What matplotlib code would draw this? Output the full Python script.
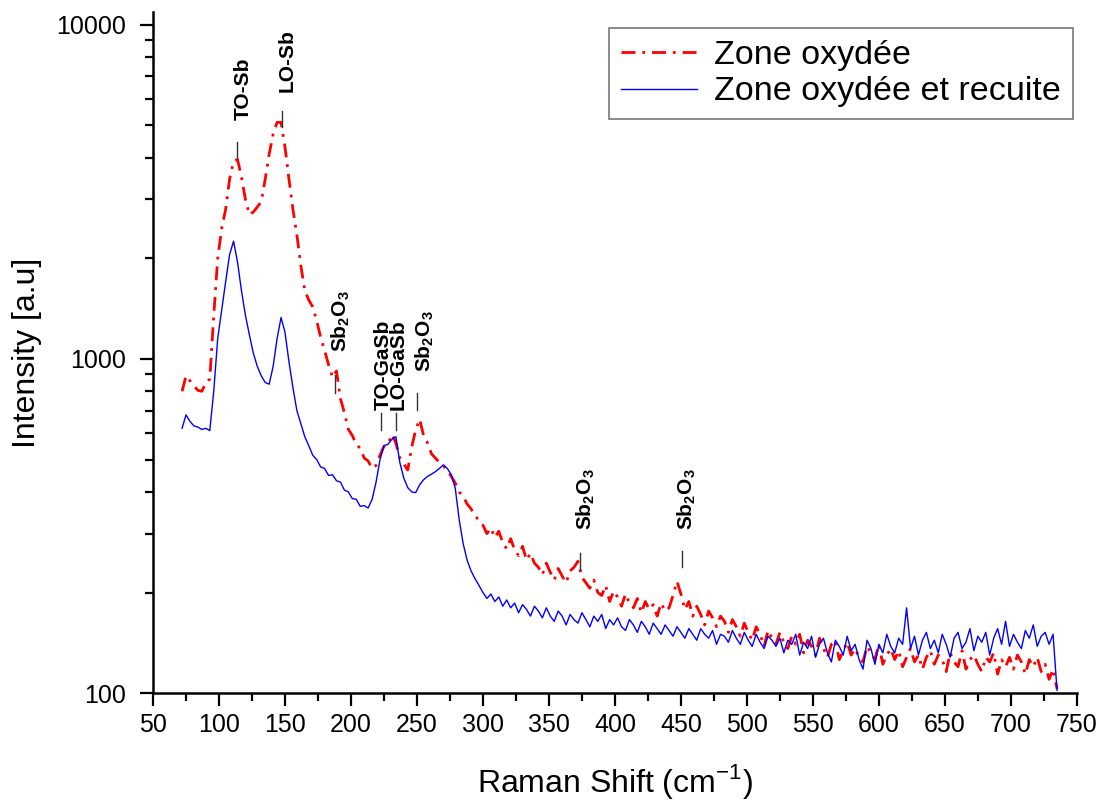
import numpy as np
import matplotlib
matplotlib.use("Agg")
import matplotlib.pyplot as plt
import matplotlib.ticker as mticker

# =========================
# Data, x grid every 3 cm-1 from 72 to 735
# =========================
shift = np.arange(72, 736, 3)

zone_oxydee = [
    800, 890, 860, 830, 805, 800, 850, 870, 1350, 2000,        # 72
    2450, 2800, 3450, 3900, 3950, 3500, 3000, 2700, 2750, 2850,  # 102
    2950, 3450, 4100, 4700, 5100, 5100, 4300, 3450, 2800, 2350,  # 132
    1900, 1600, 1500, 1430, 1300, 1160, 1060, 960, 880, 920,    # 162
    760, 690, 615, 590, 555, 540, 505, 495, 470, 480,           # 192
    515, 548, 555, 595, 560, 505, 485, 465, 545, 612,           # 222
    660, 590, 560, 520, 505, 490, 478, 465, 445, 425,           # 252
    400, 388, 368, 356, 338, 330, 318, 300, 312, 292,           # 282
    305, 282, 270, 290, 268, 258, 275, 250, 262, 245,           # 312
    238, 226, 245, 230, 218, 236, 224, 214, 232, 238,           # 342
    248, 222, 214, 206, 218, 200, 196, 210, 188, 202,           # 372
    194, 182, 198, 186, 180, 192, 174, 188, 178, 184,           # 402
    170, 186, 176, 180, 196, 216, 198, 178, 188, 170,           # 432
    182, 172, 160, 176, 168, 158, 170, 164, 152, 166,           # 462
    158, 148, 162, 152, 144, 158, 150, 138, 154, 146,           # 492
    140, 152, 142, 136, 148, 140, 150, 132, 144, 138,           # 522
    130, 146, 136, 128, 140, 144, 126, 134, 142, 130,           # 552
    136, 128, 124, 138, 132, 126, 140, 122, 130, 136,           # 582
    126, 134, 120, 128, 136, 124, 130, 118, 128, 134,           # 612
    122, 130, 126, 116, 132, 124, 120, 134, 118, 126,           # 642
    130, 122, 116, 128, 124, 132, 114, 126, 120, 128,           # 672
    118, 130, 124, 114, 126, 120, 128, 116, 122, 110,           # 702
    118, 103,                                                   # 732
]

zone_recuite = [
    620, 680, 650, 630, 625, 615, 620, 610, 800, 1150,          # 72
    1400, 1700, 2050, 2250, 1950, 1600, 1350, 1180, 1040, 950,  # 102
    890, 850, 840, 950, 1150, 1330, 1200, 980, 820, 700,        # 132
    640, 585, 550, 515, 500, 475, 470, 448, 450, 432,           # 162
    428, 405, 400, 382, 380, 362, 364, 358, 380, 428,           # 192
    500, 550, 555, 575, 585, 490, 440, 412, 400, 398,           # 222
    420, 435, 445, 452, 460, 470, 482, 470, 450, 410,           # 252
    330, 280, 250, 232, 220, 210, 200, 192, 198, 188,           # 282
    194, 182, 190, 180, 186, 174, 184, 178, 170, 182,           # 312
    176, 168, 180, 170, 164, 176, 170, 160, 172, 166,           # 342
    162, 174, 166, 158, 170, 164, 172, 156, 166, 160,           # 372
    168, 158, 154, 166, 160, 152, 164, 158, 150, 162,           # 402
    156, 150, 160, 154, 148, 158, 152, 146, 156, 150,           # 432
    144, 156, 150, 146, 154, 140, 150, 148, 142, 154,           # 462
    146, 140, 152, 144, 138, 150, 142, 136, 148, 144,           # 492
    138, 146, 132, 144, 140, 150, 130, 142, 136, 148,           # 522
    128, 140, 146, 132, 124, 144, 138, 130, 148, 134,           # 552
    140, 126, 118, 144, 136, 122, 140, 132, 150, 138,           # 582
    132, 146, 140, 180, 136, 148, 130, 144, 152, 136,           # 612
    144, 132, 150, 140, 128, 146, 152, 136, 142, 156,           # 642
    134, 148, 142, 152, 130, 146, 156, 140, 164, 138,           # 672
    150, 142, 136, 154, 146, 160, 138, 148, 152, 140,           # 702
    150, 102,                                                   # 732
]

# peak assignments: label, marker x, marker bottom/top, text x, text bottom
sb2o3 = r"Sb$_\mathbf{2}$O$_\mathbf{3}$"
peak_labels = ["TO-Sb", "LO-Sb", sb2o3, "TO-GaSb", "LO-GaSb", sb2o3, sb2o3, sb2o3]
peak_x = [113.6, 147.7, 187.9, 222.7, 234.0, 250.0, 373.5, 450.8]
mark_lo = [4000, 4950, 790, 613, 613, 703, 233, 238]
mark_hi = [4465, 5530, 896, 689, 689, 790, 262, 266]
label_x = [118.5, 151.5, 192.0, 224.5, 235.8, 256.0, 377.5, 454.5]
label_y = [5200, 6300, 1050, 703, 703, 916, 308, 308]

# =========================
# Plot settings
# =========================
plt.rcParams.update({
    "font.family": ["Liberation Sans", "DejaVu Sans"],
    "mathtext.fontset": "custom",
    "mathtext.rm": "Liberation Sans",
    "mathtext.bf": "Liberation Sans:bold",
    "xtick.labelsize": 18,
    "ytick.labelsize": 18,
})

fig = plt.figure(figsize=(11.05, 8.06), dpi=100)
ax = fig.add_axes([0.1385, 0.140, 0.836, 0.845])

ax.plot(shift, zone_oxydee, color="#FF0000", lw=2.0,
        linestyle=(0, (5, 2.5, 1, 2.5)), label="Zone oxydée")
ax.plot(shift, zone_recuite, color="#0000FF", lw=1.0, label="Zone oxydée et recuite")

for lab, px, lo, hi, tx, ty in zip(peak_labels, peak_x, mark_lo, mark_hi, label_x, label_y):
    ax.plot([px, px], [lo, hi], color="#333333", lw=1.0)
    ax.text(tx, ty, lab, rotation=90, ha="center", va="bottom",
            fontsize=15, fontweight="bold")

ax.set_yscale("log")
ax.set_xlim(50, 750)
ax.set_ylim(100, 10900)

ax.xaxis.set_major_locator(mticker.MultipleLocator(50))
ax.xaxis.set_minor_locator(mticker.MultipleLocator(25))
ax.yaxis.set_major_locator(mticker.LogLocator(base=10))
ax.yaxis.set_minor_locator(mticker.LogLocator(base=10, subs=np.arange(2, 10)))
ax.yaxis.set_major_formatter(mticker.FuncFormatter(lambda v, p: f"{v:.0f}"))
ax.yaxis.set_minor_formatter(mticker.NullFormatter())

ax.tick_params(which="major", direction="out", length=9.5, width=1.6, pad=5)
ax.tick_params(which="minor", direction="out", length=5.5, width=1.6)
ax.tick_params(axis="y", which="major", pad=10)

for s in ["top", "right"]:
    ax.spines[s].set_visible(False)
for s in ["left", "bottom"]:
    ax.spines[s].set_linewidth(1.8)

ax.set_xlabel(r"Raman Shift (cm$^{\mathregular{-1}}$)", fontsize=23, labelpad=18)
ax.set_ylabel("Intensity [a.u]", fontsize=23, labelpad=10)

leg = ax.legend(loc="upper right", bbox_to_anchor=(0.996, 0.976), fontsize=24.5,
                frameon=True, fancybox=False, handlelength=2.25, labelspacing=0.15,
                borderpad=0.35, handletextpad=0.5, borderaxespad=0)
leg.get_frame().set_edgecolor("#555555")
leg.get_frame().set_linewidth(1.2)

plt.savefig("out.png", dpi=100)
